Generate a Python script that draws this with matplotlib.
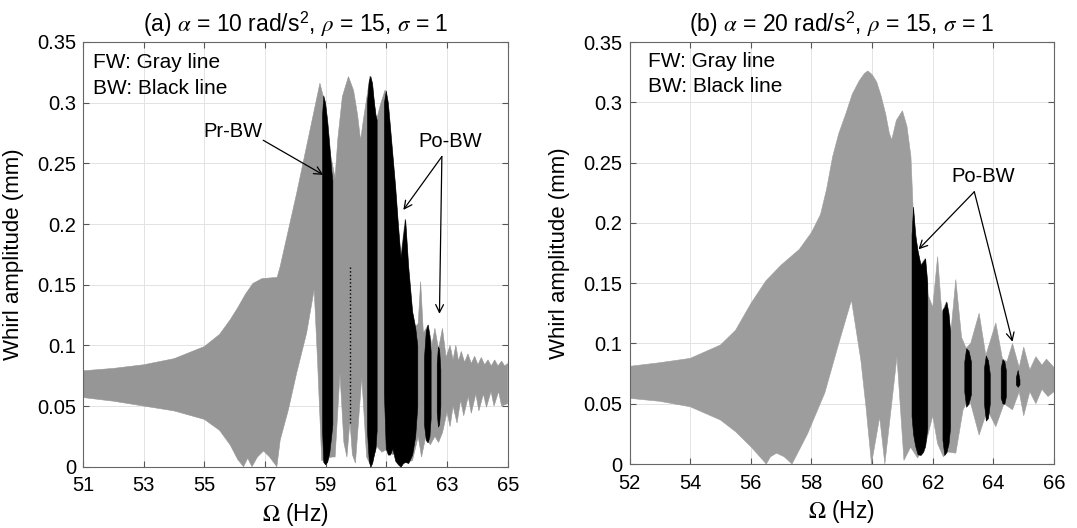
import numpy as np
import matplotlib
matplotlib.use("Agg")
import matplotlib.pyplot as plt

plt.rcParams['font.family'] = ['Liberation Sans', 'DejaVu Sans']
plt.rcParams['mathtext.fontset'] = 'stix'

# ---------------- panel (a): alpha = 10 rad/s^2 ----------------
# forward whirl (gray) envelope, upper / lower
a_fw_up_hz = [51.0, 52.0, 53.0, 54.0, 55.0, 55.5, 55.85, 56.1, 56.35, 56.6, 56.9, 57.4, 57.5,
              58.04, 58.81, 58.92, 59.1, 59.31, 59.4, 59.55, 59.75, 59.92, 60.05, 60.15, 60.25,
              60.36, 60.46, 60.58, 60.68, 60.8, 60.96, 61.12, 61.29, 61.47, 61.62, 61.72, 61.85,
              61.95, 62.05, 62.13, 62.22, 62.38, 62.5, 62.6, 62.72, 62.85, 62.97, 63.1, 63.2,
              63.29, 63.38, 63.47, 63.58, 63.69, 63.8, 63.91, 64.02, 64.13, 64.24, 64.35, 64.46,
              64.57, 64.68, 64.8, 64.9, 65.0]
a_fw_up = [0.079, 0.081, 0.084, 0.089, 0.099, 0.109, 0.121, 0.131, 0.142, 0.151, 0.155, 0.156, 0.165,
           0.225, 0.316, 0.305, 0.265, 0.238, 0.27, 0.305, 0.3215, 0.31, 0.29, 0.269, 0.287,
           0.305, 0.322, 0.305, 0.286, 0.298, 0.3105, 0.28, 0.231, 0.172, 0.204, 0.165, 0.128,
           0.115, 0.118, 0.1525, 0.11, 0.117, 0.1, 0.114, 0.097, 0.114, 0.09, 0.1, 0.088,
           0.1, 0.087, 0.095, 0.086, 0.093, 0.085, 0.091, 0.084, 0.09, 0.084, 0.088, 0.083,
           0.088, 0.083, 0.087, 0.083, 0.085]
a_fw_lo_hz = [51.0, 52.0, 53.0, 54.0, 55.0, 55.5, 55.85, 56.1, 56.29, 56.43, 56.57, 56.75, 56.95,
              57.15, 57.39, 57.5, 57.77, 58.04, 58.37, 58.62, 58.73, 58.87, 59.2, 59.31, 59.47,
              59.6, 59.7, 59.8, 59.88, 59.98, 60.19, 60.35, 60.5, 60.68, 60.85, 61.0, 61.2,
              61.37, 61.6, 61.86, 62.05, 62.16, 62.3, 62.45, 62.6, 62.72, 62.85, 63.0, 63.1,
              63.2, 63.33, 63.45, 63.55, 63.7, 63.8, 63.95, 64.05, 64.2, 64.3, 64.45, 64.55,
              64.7, 64.8, 65.0]
a_fw_lo = [0.057, 0.054, 0.050, 0.046, 0.039, 0.030, 0.018, 0.006, 0.0, 0.007, 0.0, 0.008, 0.013,
           0.008, 0.0, 0.022, 0.047, 0.077, 0.110, 0.146, 0.088, 0.005, 0.008, 0.008, 0.077,
           0.02, 0.008, 0.038, 0.01, 0.003, 0.074, 0.008, 0.0, 0.017, 0.012, 0.014, 0.01,
           0.011, 0.003, 0.005, 0.025, 0.008, 0.025, 0.018, 0.025, 0.02, 0.028, 0.045, 0.033,
           0.05, 0.036, 0.055, 0.042, 0.058, 0.044, 0.06, 0.046, 0.06, 0.049, 0.062, 0.05,
           0.062, 0.05, 0.052]

# backward whirl (black) bands
a_bw1_hz = [58.88, 58.92, 58.98, 59.05, 59.12, 59.18, 59.22]
a_bw1_top = [0.29, 0.306, 0.30, 0.285, 0.265, 0.245, 0.236]
a_bw1_bot = [0.03, 0.004, 0.002, 0.004, 0.012, 0.025, 0.035]
a_bw2_hz = [60.36, 60.42, 60.47, 60.53, 60.59, 60.64, 60.68]
a_bw2_top = [0.30, 0.318, 0.322, 0.316, 0.30, 0.29, 0.286]
a_bw2_bot = [0.03, 0.005, 0.0, 0.003, 0.01, 0.015, 0.03]
a_bw3_hz = [60.92, 60.98, 61.05, 61.12, 61.2, 61.29, 61.38, 61.47, 61.55, 61.62, 61.72, 61.85,
            61.95, 62.02]
a_bw3_top = [0.30, 0.31, 0.30, 0.28, 0.257, 0.231, 0.20, 0.172, 0.19, 0.204, 0.165, 0.128,
             0.115, 0.10]
a_bw3_bot = [0.06, 0.015, 0.01, 0.01, 0.015, 0.005, 0.002, 0.0, 0.003, 0.004, 0.003, 0.01,
             0.025, 0.05]
a_bw4_hz = [62.24, 62.3, 62.36, 62.42, 62.46]
a_bw4_top = [0.09, 0.112, 0.117, 0.108, 0.095]
a_bw4_bot = [0.035, 0.022, 0.02, 0.025, 0.04]
a_bw5_hz = [62.66, 62.7, 62.74, 62.78]
a_bw5_top = [0.085, 0.099, 0.097, 0.08]
a_bw5_bot = [0.045, 0.033, 0.035, 0.05]
a_bw_line_hz = 59.8
a_bw_line = [0.036, 0.166]

# ---------------- panel (b): alpha = 20 rad/s^2 ----------------
b_fw_up_hz = [52.0, 53.0, 54.0, 55.0, 55.5, 56.0, 56.5, 57.0, 57.6, 58.0, 58.3, 58.5, 58.7, 58.9,
              59.14, 59.35, 59.58, 59.75, 59.86, 60.0, 60.15, 60.3, 60.45, 60.57, 60.65, 60.8,
              61.0, 61.15, 61.28, 61.35, 61.5, 61.6, 61.75, 61.85, 62.0, 62.16, 62.3, 62.45,
              62.6, 62.76, 62.95, 63.1, 63.25, 63.53, 63.75, 64.08, 64.3, 64.45, 64.63, 64.85,
              65.0, 65.2, 65.4, 65.6, 65.75, 66.0]
b_fw_up = [0.081, 0.084, 0.0876, 0.0987, 0.111, 0.133, 0.152, 0.165, 0.178, 0.192, 0.207, 0.228,
           0.255, 0.274, 0.291, 0.307, 0.318, 0.324, 0.326, 0.323, 0.317, 0.305, 0.29, 0.274,
           0.269, 0.285, 0.293, 0.28, 0.255, 0.2134, 0.177, 0.165, 0.1705, 0.14, 0.13, 0.172,
           0.125, 0.1346, 0.11, 0.153, 0.105, 0.096, 0.1, 0.125, 0.09, 0.117, 0.087, 0.085,
           0.1, 0.08, 0.097, 0.078, 0.089, 0.082, 0.087, 0.08]
b_fw_lo_hz = [52.0, 53.0, 54.0, 55.0, 55.5, 56.0, 56.3, 56.51, 56.65, 56.85, 57.1, 57.36, 57.87,
              58.44, 58.9, 59.32, 59.63, 59.8, 59.98, 60.25, 60.42, 60.82, 61.05, 61.27, 61.5,
              61.8, 62.0, 62.16, 62.35, 62.5, 62.76, 63.0, 63.2, 63.53, 63.8, 64.08, 64.35,
              64.63, 64.85, 65.0, 65.2, 65.4, 65.6, 65.8, 66.0]
b_fw_lo = [0.0545, 0.052, 0.0475, 0.0365, 0.0268, 0.0144, 0.006, 0.0, 0.006, 0.009, 0.006, 0.0,
           0.025, 0.059, 0.10, 0.136, 0.086, 0.047, 0.0, 0.039, 0.0, 0.089, 0.003, 0.014, 0.005,
           0.02, 0.04, 0.017, 0.006, 0.01, 0.009, 0.045, 0.055, 0.024, 0.045, 0.031, 0.05,
           0.045, 0.06, 0.04, 0.06, 0.05, 0.062, 0.056, 0.06]

b_bw1_hz = [61.3, 61.35, 61.42, 61.5, 61.6, 61.68, 61.75, 61.82]
b_bw1_top = [0.19, 0.2134, 0.19, 0.177, 0.165, 0.168, 0.1705, 0.15]
b_bw1_bot = [0.04, 0.025, 0.015, 0.008, 0.0075, 0.01, 0.015, 0.03]
b_bw2_hz = [62.32, 62.38, 62.45, 62.52, 62.57]
b_bw2_top = [0.128, 0.13, 0.1346, 0.125, 0.11]
b_bw2_bot = [0.02, 0.0075, 0.01, 0.017, 0.03]
b_bw3_hz = [63.04, 63.1, 63.18, 63.26]
b_bw3_top = [0.085, 0.096, 0.094, 0.085]
b_bw3_bot = [0.06, 0.0475, 0.05, 0.058]
b_bw4_hz = [63.69, 63.75, 63.82, 63.88]
b_bw4_top = [0.08, 0.09, 0.086, 0.075]
b_bw4_bot = [0.05, 0.036, 0.038, 0.05]
b_bw5_hz = [64.24, 64.3, 64.36, 64.41]
b_bw5_top = [0.08, 0.087, 0.085, 0.078]
b_bw5_bot = [0.055, 0.0502, 0.05, 0.056]
b_bw6_hz = [64.74, 64.8, 64.86]
b_bw6_top = [0.072, 0.078, 0.07]
b_bw6_bot = [0.066, 0.064, 0.066]

y_ticks = [0, 0.05, 0.1, 0.15, 0.2, 0.25, 0.3, 0.35]
y_ticklabels = ['0', '0.05', '0.1', '0.15', '0.2', '0.25', '0.3', '0.35']
a_xticks = [51, 53, 55, 57, 59, 61, 63, 65]
b_xticks = [52, 54, 56, 58, 60, 62, 64, 66]


def draw_panel(ax, up_hz, up, lo_hz, lo, bands, gray, xlim, xticks):
    px = np.concatenate([up_hz, lo_hz[::-1]])
    py = np.concatenate([up, lo[::-1]])
    ax.fill(px, py, color=gray, lw=0.4, zorder=2)
    for hz, top, bot in bands:
        ax.fill_between(hz, bot, top, color='black', lw=0.4, zorder=3)
    ax.set_xlim(xlim)
    ax.set_ylim(0, 0.35)
    ax.set_xticks(xticks)
    ax.set_xticklabels([str(t) for t in xticks])
    ax.set_yticks(y_ticks)
    ax.set_yticklabels(y_ticklabels)
    ax.grid(True, color='#e3e3e3', lw=0.7)
    ax.set_axisbelow(True)
    ax.tick_params(direction='in', length=4, top=True, right=True, labelsize=14.5,
                   color='#555555')
    ax.tick_params(axis='x', pad=7)
    ax.tick_params(axis='y', pad=5)
    for s in ax.spines.values():
        s.set_color('#666666')
        s.set_linewidth(0.8)
    ax.set_xlabel(r'$\Omega$ (Hz)', fontsize=16.5)
    ax.set_ylabel('Whirl amplitude (mm)', fontsize=16)
    ax.xaxis.set_label_coords(0.5, -0.08)
    ax.yaxis.set_label_coords(-0.14, 0.5)


fig = plt.figure(figsize=(10.77, 5.28), dpi=100)
ax1 = fig.add_axes([0.0771, 0.1161, 0.3943, 0.8044])
ax2 = fig.add_axes([0.5845, 0.1212, 0.3942, 0.7992])

a_bands = [(a_bw1_hz, a_bw1_top, a_bw1_bot), (a_bw2_hz, a_bw2_top, a_bw2_bot),
           (a_bw3_hz, a_bw3_top, a_bw3_bot), (a_bw4_hz, a_bw4_top, a_bw4_bot),
           (a_bw5_hz, a_bw5_top, a_bw5_bot)]
b_bands = [(b_bw1_hz, b_bw1_top, b_bw1_bot), (b_bw2_hz, b_bw2_top, b_bw2_bot),
           (b_bw3_hz, b_bw3_top, b_bw3_bot), (b_bw4_hz, b_bw4_top, b_bw4_bot),
           (b_bw5_hz, b_bw5_top, b_bw5_bot), (b_bw6_hz, b_bw6_top, b_bw6_bot)]

draw_panel(ax1, np.array(a_fw_up_hz), np.array(a_fw_up), np.array(a_fw_lo_hz), np.array(a_fw_lo),
           a_bands, '#969696', (51, 65), a_xticks)
ax1.vlines(a_bw_line_hz, a_bw_line[0], a_bw_line[1], color='black', lw=1.0, linestyles=':', zorder=3)

draw_panel(ax2, np.array(b_fw_up_hz), np.array(b_fw_up), np.array(b_fw_lo_hz), np.array(b_fw_lo),
           b_bands, '#9d9d9d', (52, 66), b_xticks)

ax1.set_title(r'(a) $\alpha$ = 10 rad/s$^\mathregular{2}$, $\rho$ = 15, $\sigma$ = 1', fontsize=16.5, pad=7)
ax2.set_title(r'(b) $\alpha$ = 20 rad/s$^\mathregular{2}$, $\rho$ = 15, $\sigma$ = 1', fontsize=16.5, pad=7)

# legend-like text
ax1.text(51.34, 0.333, 'FW: Gray line', fontsize=15, va='center', ha='left')
ax1.text(51.34, 0.312, 'BW: Black line', fontsize=15, va='center', ha='left')
ax2.text(52.6, 0.334, 'FW: Gray line', fontsize=15, va='center', ha='left')
ax2.text(52.6, 0.313, 'BW: Black line', fontsize=15, va='center', ha='left')

arrow = dict(arrowstyle='->', color='black', lw=0.9, mutation_scale=14, shrinkA=0, shrinkB=0)

ax1.text(55.94, 0.2765, 'Pr-BW', fontsize=14.5, ha='center', va='center')
ax1.annotate('', xy=(58.92, 0.2405), xytext=(56.94, 0.269), arrowprops=arrow)
ax1.text(63.1, 0.268, 'Po-BW', fontsize=14.5, ha='center', va='center')
ax1.annotate('', xy=(61.56, 0.2116), xytext=(62.83, 0.2556), arrowprops=arrow)
ax1.annotate('', xy=(62.75, 0.126), xytext=(62.83, 0.2556), arrowprops=arrow)

ax2.text(63.66, 0.2388, 'Po-BW', fontsize=14.5, ha='center', va='center')
ax2.annotate('', xy=(61.53, 0.178), xytext=(63.37, 0.2258), arrowprops=arrow)
ax2.annotate('', xy=(64.63, 0.1014), xytext=(63.37, 0.2258), arrowprops=arrow)

fig.savefig('out.png', dpi=100)
